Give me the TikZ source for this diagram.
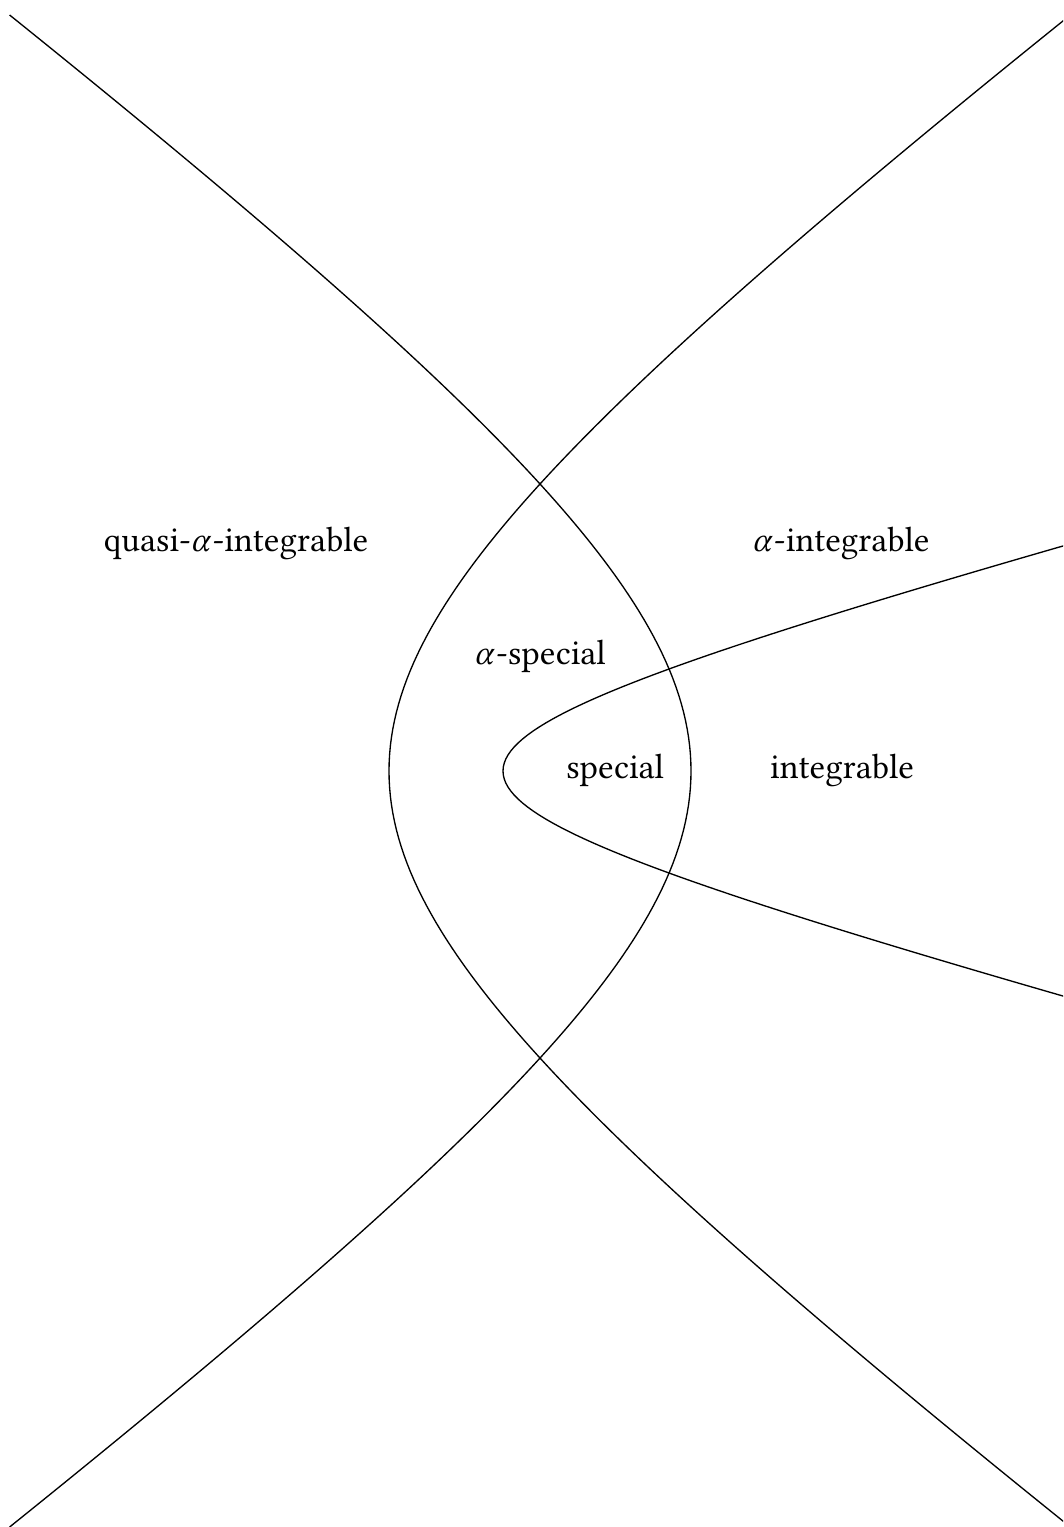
\documentclass[tikz,border=0pt]{standalone}
\usepackage{fontspec}
\setmainfont{Libertinus Serif}
\newcommand{\alp}{\textit{α}\kern0.3pt}
\begin{document}
\begin{tikzpicture}[x=30pt,y=-30pt,
  curve/.style={line width=0.4pt,black},
  lbl/.style={inner sep=0pt,font=\fontsize{10.5}{12.5}\selectfont}]
\useasboundingbox (0,0) rectangle (10.63,15.27);
\clip (0,0) rectangle (10.63,15.27);
% right-opening branch (vertex left)
\draw[curve] plot[domain=-7.56:7.56,samples=181,variable=\t]
  ({-0.29+sqrt(4.18*4.18+1.809*\t*\t)},{7.71+\t});
% left-opening branch (vertex right)
\draw[curve] plot[domain=-7.56:7.56,samples=181,variable=\t]
  ({11.09-sqrt(4.18*4.18+1.809*\t*\t)},{7.71+\t});
% inner curve
\draw[curve] plot[domain=-2.4:2.4,samples=121,variable=\t]
  ({1.41+sqrt(3.62*3.62+14.2*\t*\t)},{7.71+\t});
\node[lbl] (qai) at (2.36,5.43) {quasi-\alp-integrable};
\node[lbl] (ai) at (8.41,5.43) {\alp-integrable};
\node[lbl] (as) at (5.40,6.56) {\alp-special};
\node[lbl] (sp) at (6.15,7.70) {special};
\node[lbl] (in) at (8.42,7.70) {integrable};
\end{tikzpicture}
\end{document}
